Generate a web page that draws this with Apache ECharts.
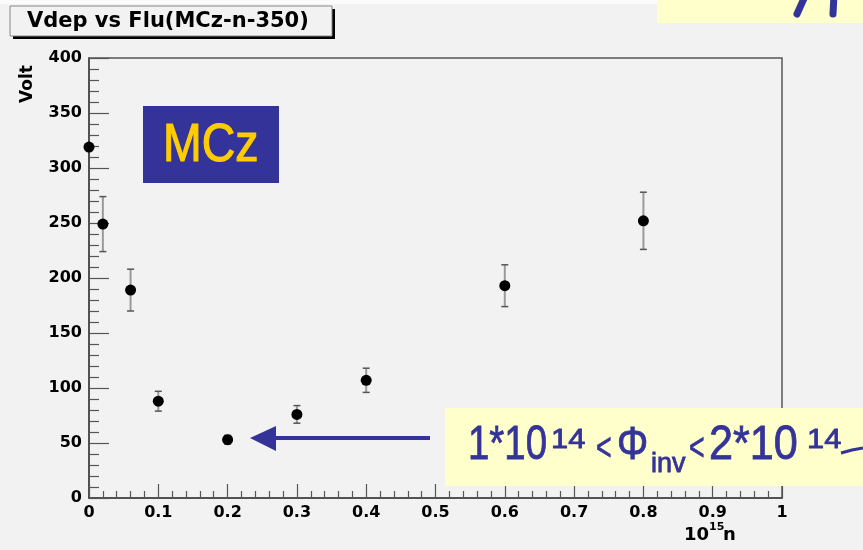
<!DOCTYPE html>
<html>
<head>
<meta charset="utf-8">
<script src="https://cdn.jsdelivr.net/npm/echarts@6/dist/echarts.min.js"></script>
<style>
  html, body { margin: 0; padding: 0; background: #f2f2f2; }
  #chart { width: 863px; height: 550px; }
</style>
</head>
<body>
<div id="chart"></div>
<script>
// Depletion voltage vs. fluence for MCz-n-350 diodes
const fluence = [0, 0.02, 0.06, 0.1, 0.2, 0.3, 0.4, 0.6, 0.8];   // 10^15 n/cm^2
const vdep    = [319, 249, 189, 88, 53, 76, 107, 193, 252];      // Volt
const vdepErr = [0, 25, 19, 9, 4, 8, 11, 19, 26];                // Volt

const xTickLabels = ['0', '0.1', '0.2', '0.3', '0.4', '0.5', '0.6', '0.7', '0.8', '0.9', '1'];
const yTickLabels = ['0', '50', '100', '150', '200', '250', '300', '350', '400'];

const AXIS_FONT = 'DejaVu Sans';
const BLUE = '#333399';

const chart = echarts.init(document.getElementById('chart'));

const points = fluence.map((f, i) => [f, vdep[i]]);
const bars = fluence.map((f, i) => [f, vdep[i] - vdepErr[i], vdep[i] + vdepErr[i]]);

const axisCommon = {
  type: 'value',
  axisLine: { show: true, lineStyle: { color: '#444', width: 1.5 } },
  splitLine: { show: false },
  axisLabel: {
    color: '#000',
    fontFamily: AXIS_FONT,
    fontWeight: 'bold',
    fontSize: 16,
    margin: 7
  }
};

// hand-lettered style annotation text: regular face thickened with a light stroke
function noteText(x, y, text, size, scaleX) {
  return {
    type: 'text', x: x, y: y, scaleX: scaleX || 1, z: 21,
    style: { text: text, fill: BLUE, stroke: BLUE, lineWidth: 0.8,
             font: size + 'px "Liberation Sans"', align: 'left', verticalAlign: 'middle' }
  };
}

chart.setOption({
  backgroundColor: '#f2f2f2',
  animation: false,
  grid: {
    left: 89, right: 81, top: 58, bottom: 52,
    show: true,
    borderColor: '#555',
    borderWidth: 1.5,
    backgroundColor: 'transparent'
  },
  xAxis: Object.assign({}, axisCommon, {
    min: 0, max: 1, interval: 0.1,
    axisTick: { show: true, inside: true, length: 14, lineStyle: { color: '#555', width: 1.2 } },
    minorTick: { show: true, splitNumber: 5, length: 7, lineStyle: { color: '#555', width: 1.2 } },
    axisLabel: Object.assign({}, axisCommon.axisLabel, {
      formatter: v => xTickLabels[Math.round(v * 10)]
    })
  }),
  yAxis: Object.assign({}, axisCommon, {
    min: 0, max: 400, interval: 50,
    axisTick: { show: true, inside: true, length: 20, lineStyle: { color: '#555', width: 1.2 } },
    minorTick: { show: true, splitNumber: 5, length: 10, lineStyle: { color: '#555', width: 1.2 } },
    axisLabel: Object.assign({}, axisCommon.axisLabel, {
      formatter: v => yTickLabels[Math.round(v / 50)]
    })
  }),
  series: [
    {
      type: 'custom',
      name: 'error',
      z: 2,
      data: bars,
      renderItem: function (params, api) {
        const x = api.value(0), lo = api.value(1), hi = api.value(2);
        if (hi - lo <= 0) return null;
        const pHi = api.coord([x, hi]);
        const pLo = api.coord([x, lo]);
        const cap = 3.5;
        return {
          type: 'group',
          children: [
            { type: 'line', shape: { x1: pHi[0], y1: pHi[1], x2: pLo[0], y2: pLo[1] },
              style: { stroke: '#9a9a9a', lineWidth: 2 } },
            { type: 'line', shape: { x1: pHi[0] - cap, y1: pHi[1], x2: pHi[0] + cap, y2: pHi[1] },
              style: { stroke: '#555', lineWidth: 1.5 } },
            { type: 'line', shape: { x1: pLo[0] - cap, y1: pLo[1], x2: pLo[0] + cap, y2: pLo[1] },
              style: { stroke: '#555', lineWidth: 1.5 } }
          ]
        };
      }
    },
    {
      type: 'scatter',
      name: 'Vdep',
      z: 3,
      clip: false,
      symbol: 'circle',
      symbolSize: 11,
      itemStyle: { color: '#000', opacity: 1 },
      emphasis: { disabled: true },
      data: points
    }
  ],
  graphic: [
    // thin light strip along the top edge
    { type: 'rect', shape: { x: 0, y: 0, width: 657, height: 4 }, style: { fill: '#fbfbfb' }, z: 10 },
    // title box with drop shadow
    { type: 'rect', shape: { x: 13, y: 9, width: 322, height: 30 }, style: { fill: '#000' }, z: 10 },
    { type: 'rect', shape: { x: 10, y: 6, width: 322, height: 30 },
      style: { fill: '#f2f2f2', stroke: '#888', lineWidth: 1 }, z: 11 },
    { type: 'text', x: 27, y: 22, z: 12,
      style: { text: 'Vdep vs Flu(MCz-n-350)', fill: '#000', font: 'bold 21px "DejaVu Sans"',
               align: 'left', verticalAlign: 'middle' } },
    // y axis title
    { type: 'text', x: 28, y: 84, rotation: Math.PI / 2, z: 12,
      style: { text: 'Volt', fill: '#000', font: 'bold 17px "DejaVu Sans"',
               align: 'center', verticalAlign: 'middle' } },
    // x axis unit: 10^15 n
    { type: 'text', x: 684, y: 535, z: 12,
      style: { text: '10', fill: '#000', font: 'bold 18px "DejaVu Sans"', align: 'left', verticalAlign: 'middle' } },
    { type: 'text', x: 709, y: 527, z: 12,
      style: { text: '15', fill: '#000', font: 'bold 11px "DejaVu Sans"', align: 'left', verticalAlign: 'middle' } },
    { type: 'text', x: 723, y: 535, z: 12,
      style: { text: 'n', fill: '#000', font: 'bold 18px "DejaVu Sans"', align: 'left', verticalAlign: 'middle' } },
    // MCz label
    { type: 'rect', shape: { x: 143, y: 106, width: 136, height: 77 }, style: { fill: BLUE }, z: 20 },
    { type: 'text', x: 163, y: 146, scaleX: 0.86, z: 21,
      style: { text: 'MCz', fill: '#ffcc00', stroke: '#ffcc00', lineWidth: 1.2,
               font: '54px "Liberation Sans"', align: 'left', verticalAlign: 'middle' } },
    // arrow toward the 0.2 point
    { type: 'line', shape: { x1: 272, y1: 438, x2: 430, y2: 438 }, style: { stroke: BLUE, lineWidth: 4 }, z: 20 },
    { type: 'polygon', shape: { points: [[250, 438], [276, 426], [276, 451]] }, style: { fill: BLUE }, z: 20 },
    // fluence range note
    { type: 'rect', shape: { x: 445, y: 408, width: 418, height: 78 }, style: { fill: '#ffffcc' }, z: 20 },
    noteText(468, 446, '1*10', 48, 0.8),
    noteText(551, 440, '14', 28, 1.1),
    noteText(596, 450, '<', 38, 0.7),
    noteText(617, 446, 'Φ', 46, 0.85),
    noteText(651, 465, 'inv', 27, 1.0),
    noteText(689, 450, '<', 38, 0.7),
    noteText(709, 446, '2*10', 48, 0.9),
    noteText(807, 440, '14', 28, 1.1),
    { type: 'polyline', shape: { points: [[841, 453], [852, 450], [863, 448]] },
      style: { stroke: BLUE, lineWidth: 3, fill: null }, z: 21 },
    // corner note, cut off at the top edge
    { type: 'rect', shape: { x: 657, y: 0, width: 206, height: 23 }, style: { fill: '#ffffcc' }, z: 20 },
    { type: 'line', shape: { x1: 806, y1: -6, x2: 797, y2: 14 },
      style: { stroke: BLUE, lineWidth: 7, lineCap: 'round' }, z: 21 },
    { type: 'line', shape: { x1: 834, y1: -6, x2: 833, y2: 14 },
      style: { stroke: BLUE, lineWidth: 7, lineCap: 'round' }, z: 21 }
  ]
});
</script>
</body>
</html>
